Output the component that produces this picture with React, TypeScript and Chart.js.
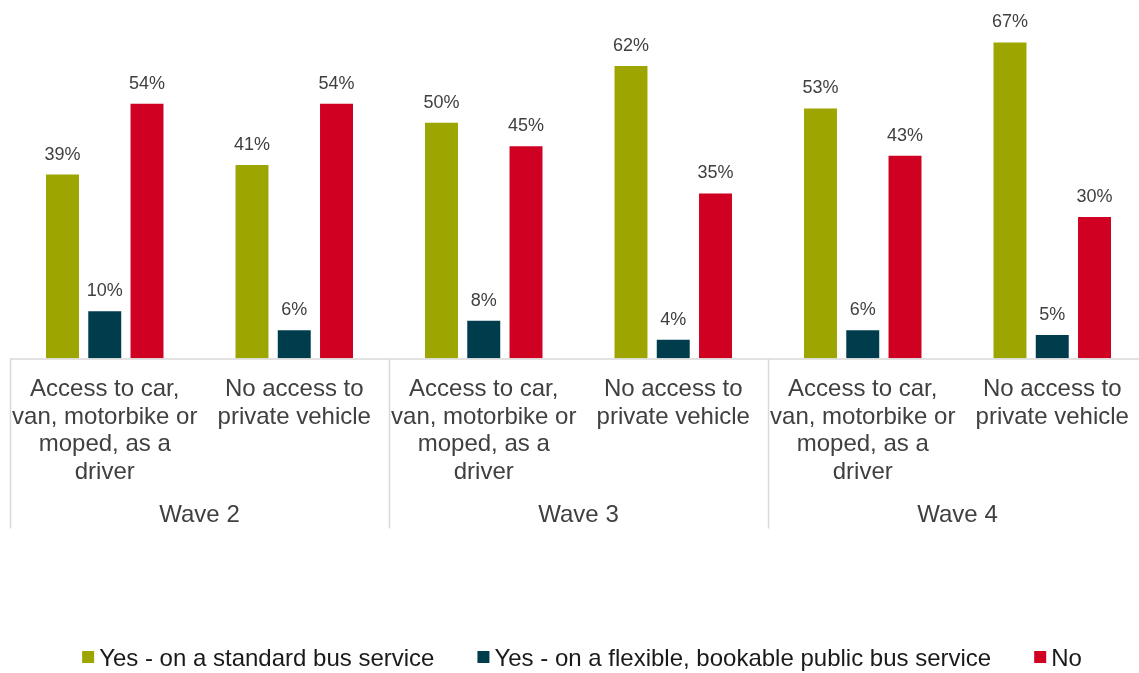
import React, { useEffect, useRef } from "react";
import { Chart, registerables } from "chart.js";

Chart.register(...registerables);

const categories: string[][] = [
  ["Access to car,", "van, motorbike or", "moped, as a", "driver"],
  ["No access to", "private vehicle"],
  ["Access to car,", "van, motorbike or", "moped, as a", "driver"],
  ["No access to", "private vehicle"],
  ["Access to car,", "van, motorbike or", "moped, as a", "driver"],
  ["No access to", "private vehicle"],
];
const waves: string[] = ["Wave 2", "Wave 3", "Wave 4"];

const seriesNames: string[] = [
  "Yes - on a standard bus service",
  "Yes - on a flexible, bookable public bus service",
  "No",
];
const standardBus: number[] = [39, 41, 50, 62, 53, 67];
const flexibleBus: number[] = [10, 6, 8, 4, 6, 5];
const noBus: number[] = [54, 54, 45, 35, 43, 30];
const seriesColors: string[] = ["#9DA600", "#003D4C", "#CF0021"];

const FONT = '"Liberation Sans", Arial, sans-serif';

const decorPlugin = {
  id: "decor",
  afterDraw(chart: any) {
    const ctx = chart.ctx;
    const area = chart.chartArea;
    const x = chart.scales.x;
    const bottom = area.bottom;
    ctx.save();

    // data labels
    ctx.font = `18px ${FONT}`;
    ctx.fillStyle = "#404040";
    ctx.textAlign = "center";
    ctx.textBaseline = "alphabetic";
    chart.data.datasets.forEach((ds: any, di: number) => {
      const meta = chart.getDatasetMeta(di);
      meta.data.forEach((bar: any, i: number) => {
        ctx.fillText(`${ds.data[i]}%`, bar.x, bar.y - 15);
      });
    });

    // axis line
    ctx.strokeStyle = "#D9D9D9";
    ctx.lineWidth = 1.5;
    ctx.beginPath();
    ctx.moveTo(area.left, bottom + 0.5);
    ctx.lineTo(area.right, bottom + 0.5);
    ctx.stroke();

    // separators
    const n = categories.length;
    const catW = (area.right - area.left) / n;
    for (let g = 0; g <= waves.length; g++) {
      const sx = Math.round(area.left + g * 2 * catW) + 0.5;
      ctx.beginPath();
      ctx.moveTo(sx, bottom);
      ctx.lineTo(sx, bottom + 170);
      ctx.stroke();
    }

    // category labels
    ctx.font = `24px ${FONT}`;
    ctx.fillStyle = "#404040";
    categories.forEach((lines, i) => {
      const cx = x.getPixelForValue(i);
      lines.forEach((line, k) => {
        ctx.fillText(line, cx, bottom + 37.5 + k * 27.6);
      });
    });

    // wave labels
    waves.forEach((w, g) => {
      const cx = (x.getPixelForValue(2 * g) + x.getPixelForValue(2 * g + 1)) / 2;
      ctx.fillText(w, cx, bottom + 163);
    });

    // legend
    ctx.font = `24px ${FONT}`;
    ctx.textAlign = "left";
    const box = 12;
    const gapText = 5;
    const gapItem = 43;
    const widths = seriesNames.map((s) => ctx.measureText(s).width);
    let total = 0;
    widths.forEach((w, i) => {
      total += box + gapText + w + (i < widths.length - 1 ? gapItem : 0);
    });
    let lx = 582 - total / 2;
    const ly = 666;
    seriesNames.forEach((s, i) => {
      ctx.fillStyle = seriesColors[i];
      ctx.fillRect(lx, ly - 15, box, box);
      ctx.fillStyle = "#1A1A1A";
      ctx.fillText(s, lx + box + gapText, ly);
      lx += box + gapText + widths[i] + gapItem;
    });

    ctx.restore();
  },
};

export default function App() {
  const ref = useRef<HTMLCanvasElement | null>(null);

  useEffect(() => {
    if (!ref.current) return;
    const chart = new Chart(ref.current, {
      type: "bar",
      data: {
        labels: categories.map((c) => c.join(" ")),
        datasets: [
          { label: seriesNames[0], data: standardBus, backgroundColor: seriesColors[0] },
          { label: seriesNames[1], data: flexibleBus, backgroundColor: seriesColors[1] },
          { label: seriesNames[2], data: noBus, backgroundColor: seriesColors[2] },
        ],
      },
      options: {
        responsive: false,
        animation: false,
        devicePixelRatio: 1,
        layout: { padding: { left: 10, right: 3, top: 0, bottom: 314.5 } },
        datasets: {
          bar: { categoryPercentage: 0.669, barPercentage: 0.78, borderWidth: 0 },
        } as any,
        plugins: {
          legend: { display: false },
          tooltip: { enabled: false },
        },
        scales: {
          x: { display: false },
          y: { display: false, min: 0, max: 76 },
        },
      },
      plugins: [decorPlugin],
    });
    return () => chart.destroy();
  }, []);

  return (
    <div
      style={{
        position: "fixed",
        left: 0,
        top: 0,
        width: 1139,
        height: 673,
        overflow: "hidden",
        background: "#fff",
      }}
    >
      <canvas ref={ref} width={1150} height={673} style={{ width: 1150, height: 673 }} />
    </div>
  );
}
